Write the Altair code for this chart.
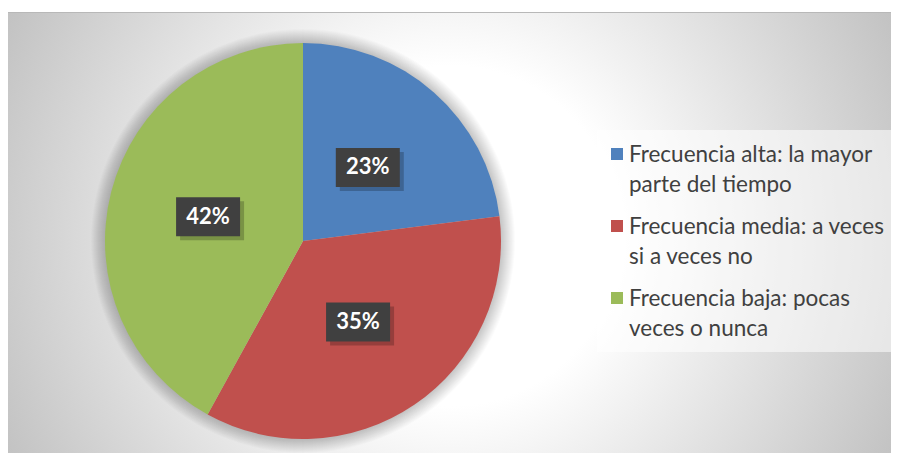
import altair as alt
import pandas as pd

# ---- data ----
categories = [
    "Frecuencia alta: la mayor parte del tiempo",
    "Frecuencia media: a veces si a veces no",
    "Frecuencia baja: pocas veces o nunca",
]
legend_line1 = ["Frecuencia alta: la mayor", "Frecuencia media: a veces", "Frecuencia baja: pocas"]
legend_line2 = ["parte del tiempo", "si a veces no", "veces o nunca"]
percentages = [23, 35, 42]
colors = ["#4F81BD", "#C0504D", "#9BBB59"]

df = pd.DataFrame({
    "cat": categories,
    "pct": percentages,
    "idx": list(range(len(categories))),
    "l1": legend_line1,
    "l2": legend_line2,
})

# ---- layout ----
W, H = 883, 441
CX, CY, R = 295, 229, 198
LR = 98          # label radius
BW, BH = 64, 39  # label box size
color_scale = alt.Scale(domain=categories, range=colors)

# background radial gradient (square so it stays circular), clipped to view
GX, GY, GS = 442, 224, 500
bg = alt.Chart(pd.DataFrame({"a": [0]})).mark_rect(
    clip=True,
    fill=alt.Gradient(
        gradient="radial",
        stops=[
            alt.GradientStop(color="#ffffff", offset=0),
            alt.GradientStop(color="#ffffff", offset=0.34),
            alt.GradientStop(color="#c4c4c4", offset=0.97),
            alt.GradientStop(color="#c2c2c2", offset=1),
        ],
        x1=0.5, y1=0.5, x2=0.5, y2=0.5, r1=0, r2=0.5,
    ),
).encode(
    x=alt.value(GX - GS), x2=alt.value(GX + GS),
    y=alt.value(GY - GS), y2=alt.value(GY + GS),
)

top_line = alt.Chart(pd.DataFrame({"a": [0]})).mark_rule(
    color="#b8b8b8", strokeWidth=1
).encode(x=alt.value(0), x2=alt.value(W), y=alt.value(0.5))

# soft shadow rings behind the pie
shadow_layers = []
for k in range(1, 15):
    shadow_layers.append(
        alt.Chart(pd.DataFrame({"a": [0]})).mark_arc(
            theta=0, theta2=6.2832, radius=R + k, fill="#000000", fillOpacity=0.017
        ).encode(x=alt.value(CX), y=alt.value(CY))
    )

base = alt.Chart(df)

pie = base.mark_arc(radius=R).encode(
    theta=alt.Theta("pct:Q", stack=True),
    color=alt.Color("cat:N", scale=color_scale, legend=None),
    order=alt.Order("idx:Q"),
    x=alt.value(CX),
    y=alt.value(CY),
)

lab = base.transform_window(
    cum="sum(pct)", sort=[alt.SortField("idx")], frame=[None, 0]
).transform_joinaggregate(
    total="sum(pct)"
).transform_calculate(
    mid="(datum.cum - datum.pct/2) / datum.total * 2 * PI",
    lx=f"{CX} + {LR} * sin(datum.mid)",
    ly=f"{CY} - {LR} * cos(datum.mid)",
    bx1=f"datum.lx - {BW/2}",
    bx2=f"datum.lx + {BW/2}",
    by1=f"datum.ly - {BH/2}",
    by2=f"datum.ly + {BH/2}",
    sx1=f"datum.lx - {BW/2} + 4",
    sx2=f"datum.lx + {BW/2} + 4",
    sy1=f"datum.ly - {BH/2} + 4",
    sy2=f"datum.ly + {BH/2} + 4",
    label="datum.pct + '%'",
)

box_shadow = lab.mark_rect(color="#000000", opacity=0.22).encode(
    x=alt.X("sx1:Q", scale=None, axis=None), x2="sx2:Q",
    y=alt.Y("sy1:Q", scale=None, axis=None), y2="sy2:Q",
)
box = lab.mark_rect(color="#404040").encode(
    x=alt.X("bx1:Q", scale=None, axis=None), x2="bx2:Q",
    y=alt.Y("by1:Q", scale=None, axis=None), y2="by2:Q",
)
text = lab.mark_text(
    font="Lato", fontSize=22, fontWeight="bold", color="#ffffff",
    align="center", baseline="middle",
).encode(
    x=alt.X("lx:Q", scale=None, axis=None),
    y=alt.Y("ly:Q", scale=None, axis=None),
    text="label:N",
)

# legend (manual, multi-line)
LX, LY0, LSTEP, LLINE = 609, 142, 72, 30
leg_panel = alt.Chart(pd.DataFrame({"a": [0]})).mark_rect(
    color="#ffffff", opacity=0.55
).encode(x=alt.value(589), x2=alt.value(W), y=alt.value(118), y2=alt.value(340))

leg = base.transform_calculate(
    sy=f"{LY0} + datum.idx * {LSTEP}",
    t1y=f"{LY0} + 1 + datum.idx * {LSTEP}",
    t2y=f"{LY0} + 1 + {LLINE} + datum.idx * {LSTEP}",
)
leg_sym = leg.mark_square(size=144, opacity=1).encode(
    x=alt.value(LX),
    y=alt.Y("sy:Q", scale=None, axis=None),
    color=alt.Color("cat:N", scale=color_scale, legend=None),
)
leg_t1 = leg.mark_text(
    font="Lato", fontSize=22.5, color="#404040", align="left", baseline="middle"
).encode(x=alt.value(LX + 12), y=alt.Y("t1y:Q", scale=None, axis=None), text="l1:N")
leg_t2 = leg.mark_text(
    font="Lato", fontSize=22.5, color="#404040", align="left", baseline="middle"
).encode(x=alt.value(LX + 12), y=alt.Y("t2y:Q", scale=None, axis=None), text="l2:N")

chart = alt.layer(
    bg, top_line, *shadow_layers, pie, box_shadow, box, text, leg_panel, leg_sym, leg_t1, leg_t2
).properties(
    width=W, height=H,
    padding={"left": 0, "top": 4, "right": 0, "bottom": 0},
    autosize=alt.AutoSizeParams(type="none"),
    background="#ffffff",
).configure_view(stroke=None)

chart.save("out.html", embed_options={"renderer": "svg", "actions": False})
